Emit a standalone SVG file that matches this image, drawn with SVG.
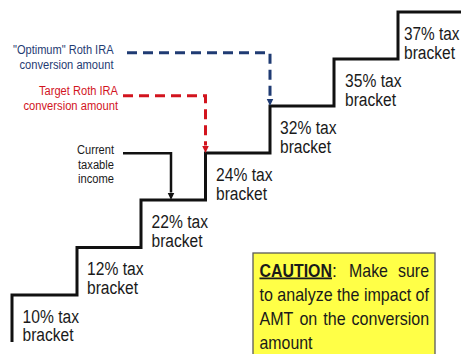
<svg xmlns="http://www.w3.org/2000/svg" width="461" height="354" viewBox="0 0 461 354">
  <style>
    .stair { fill: none; stroke: #111; stroke-width: 3; stroke-linejoin: miter; }
    .br { font-family: "Liberation Sans", Arial, sans-serif; font-size: 18px; fill: #1a1a1a; }
    .lbl { font-family: "Liberation Sans", Arial, sans-serif; font-size: 12.5px; }
    .navy { fill: #1F3B73; }
    .red { fill: #D2141E; }
    .blk { fill: #1a1a1a; }
    .dashN { fill: none; stroke: #1F3B73; stroke-width: 3; stroke-dasharray: 10 6; }
    .dashR { fill: none; stroke: #D2141E; stroke-width: 3; stroke-dasharray: 10 6; }
    .solid { fill: none; stroke: #111; stroke-width: 2.5; }
    .cau { font-family: "Liberation Sans", Arial, sans-serif; font-size: 17.7px; fill: #1a1a1a; }
  </style>
  <defs>
    <marker id="arN" markerUnits="userSpaceOnUse" markerWidth="8" markerHeight="8" refX="0" refY="4" orient="auto">
      <path d="M0,0.5 L7.5,4 L0,7.5 z" fill="#1F3B73"/>
    </marker>
    <marker id="arR" markerUnits="userSpaceOnUse" markerWidth="8" markerHeight="8" refX="0" refY="4" orient="auto">
      <path d="M0,0.5 L7.5,4 L0,7.5 z" fill="#D2141E"/>
    </marker>
    <marker id="arK" markerUnits="userSpaceOnUse" markerWidth="8" markerHeight="8" refX="0" refY="4" orient="auto">
      <path d="M0,0.5 L7.5,4 L0,7.5 z" fill="#111"/>
    </marker>
  </defs>

  <g id="staircase">
    <polyline class="stair" points="12,342 12,295 77,295 77,247.5 141,247.5 141,200 205.5,200 205.5,153 270,153 270,106 334,106 334,59 398,59 398,12 463,12"/>
  </g>

  <g id="b10"><text class="br" x="22.5" y="323" textLength="56.5" lengthAdjust="spacingAndGlyphs">10% tax</text><text class="br" x="22.5" y="341" textLength="51" lengthAdjust="spacingAndGlyphs">bracket</text></g>
  <g id="b12"><text class="br" x="87" y="275" textLength="56.5" lengthAdjust="spacingAndGlyphs">12% tax</text><text class="br" x="87" y="293.5" textLength="51" lengthAdjust="spacingAndGlyphs">bracket</text></g>
  <g id="b22"><text class="br" x="151.5" y="228" textLength="56.5" lengthAdjust="spacingAndGlyphs">22% tax</text><text class="br" x="151.5" y="246.5" textLength="51" lengthAdjust="spacingAndGlyphs">bracket</text></g>
  <g id="b24"><text class="br" x="216" y="181" textLength="56.5" lengthAdjust="spacingAndGlyphs">24% tax</text><text class="br" x="216" y="199.5" textLength="51" lengthAdjust="spacingAndGlyphs">bracket</text></g>
  <g id="b32"><text class="br" x="280" y="134" textLength="56.5" lengthAdjust="spacingAndGlyphs">32% tax</text><text class="br" x="280" y="152.5" textLength="51" lengthAdjust="spacingAndGlyphs">bracket</text></g>
  <g id="b35"><text class="br" x="345" y="87" textLength="56.5" lengthAdjust="spacingAndGlyphs">35% tax</text><text class="br" x="345" y="105.5" textLength="51" lengthAdjust="spacingAndGlyphs">bracket</text></g>
  <g id="b37"><text class="br" x="404" y="40" textLength="55.5" lengthAdjust="spacingAndGlyphs">37% tax</text><text class="br" x="404" y="58.5" textLength="51" lengthAdjust="spacingAndGlyphs">bracket</text></g>

  <g id="optimum">
    <text class="lbl navy" x="113.5" y="53.5" text-anchor="end" textLength="100.5" lengthAdjust="spacingAndGlyphs">"Optimum" Roth IRA</text>
    <text class="lbl navy" x="113.5" y="68.5" text-anchor="end" textLength="94" lengthAdjust="spacingAndGlyphs">conversion amount</text>
  </g>
  <g id="target">
    <text class="lbl red" x="118" y="95" text-anchor="end" textLength="79" lengthAdjust="spacingAndGlyphs">Target Roth IRA</text>
    <text class="lbl red" x="118" y="110" text-anchor="end" textLength="94.5" lengthAdjust="spacingAndGlyphs">conversion amount</text>
  </g>
  <g id="current">
    <text class="lbl blk" x="114" y="153.5" text-anchor="end" textLength="37" lengthAdjust="spacingAndGlyphs">Current</text>
    <text class="lbl blk" x="114" y="168.5" text-anchor="end" textLength="36" lengthAdjust="spacingAndGlyphs">taxable</text>
    <text class="lbl blk" x="114" y="183" text-anchor="end" textLength="36" lengthAdjust="spacingAndGlyphs">income</text>
  </g>

  <g id="connectors">
    <path class="dashN" d="M127,52.7 H270 V98.5" marker-end="url(#arN)"/>
    <path class="dashR" d="M123,95.7 H205.5 V145.5" marker-end="url(#arR)"/>
    <path class="solid" d="M123,153.3 H171 V192.5" marker-end="url(#arK)"/>
  </g>

  <g id="caution">
    <rect x="253" y="253" width="182" height="110" fill="#FFFF47" stroke="#5a5a5a" stroke-width="1.3"/>
    <text class="cau" x="259.5" y="276.5" font-weight="bold" text-decoration="underline" textLength="72.5" lengthAdjust="spacingAndGlyphs">CAUTION</text>
    <text class="cau" x="332" y="276.5">:</text>
    <text class="cau" x="349" y="276.5" textLength="39" lengthAdjust="spacingAndGlyphs">Make</text>
    <text class="cau" x="398" y="276.5" textLength="31" lengthAdjust="spacingAndGlyphs">sure</text>
    <text class="cau" x="259.5" y="300.5" textLength="169.5" lengthAdjust="spacingAndGlyphs">to analyze the impact of</text>
    <text class="cau" x="259.5" y="324.5" textLength="33.9" lengthAdjust="spacingAndGlyphs">AMT</text>
    <text class="cau" x="299.4" y="324.5" textLength="17.9" lengthAdjust="spacingAndGlyphs">on</text>
    <text class="cau" x="323.3" y="324.5" textLength="22.3" lengthAdjust="spacingAndGlyphs">the</text>
    <text class="cau" x="351.6" y="324.5" textLength="77.6" lengthAdjust="spacingAndGlyphs">conversion</text>
    <text class="cau" x="259.5" y="348.5" textLength="53" lengthAdjust="spacingAndGlyphs">amount</text>
  </g>
</svg>
